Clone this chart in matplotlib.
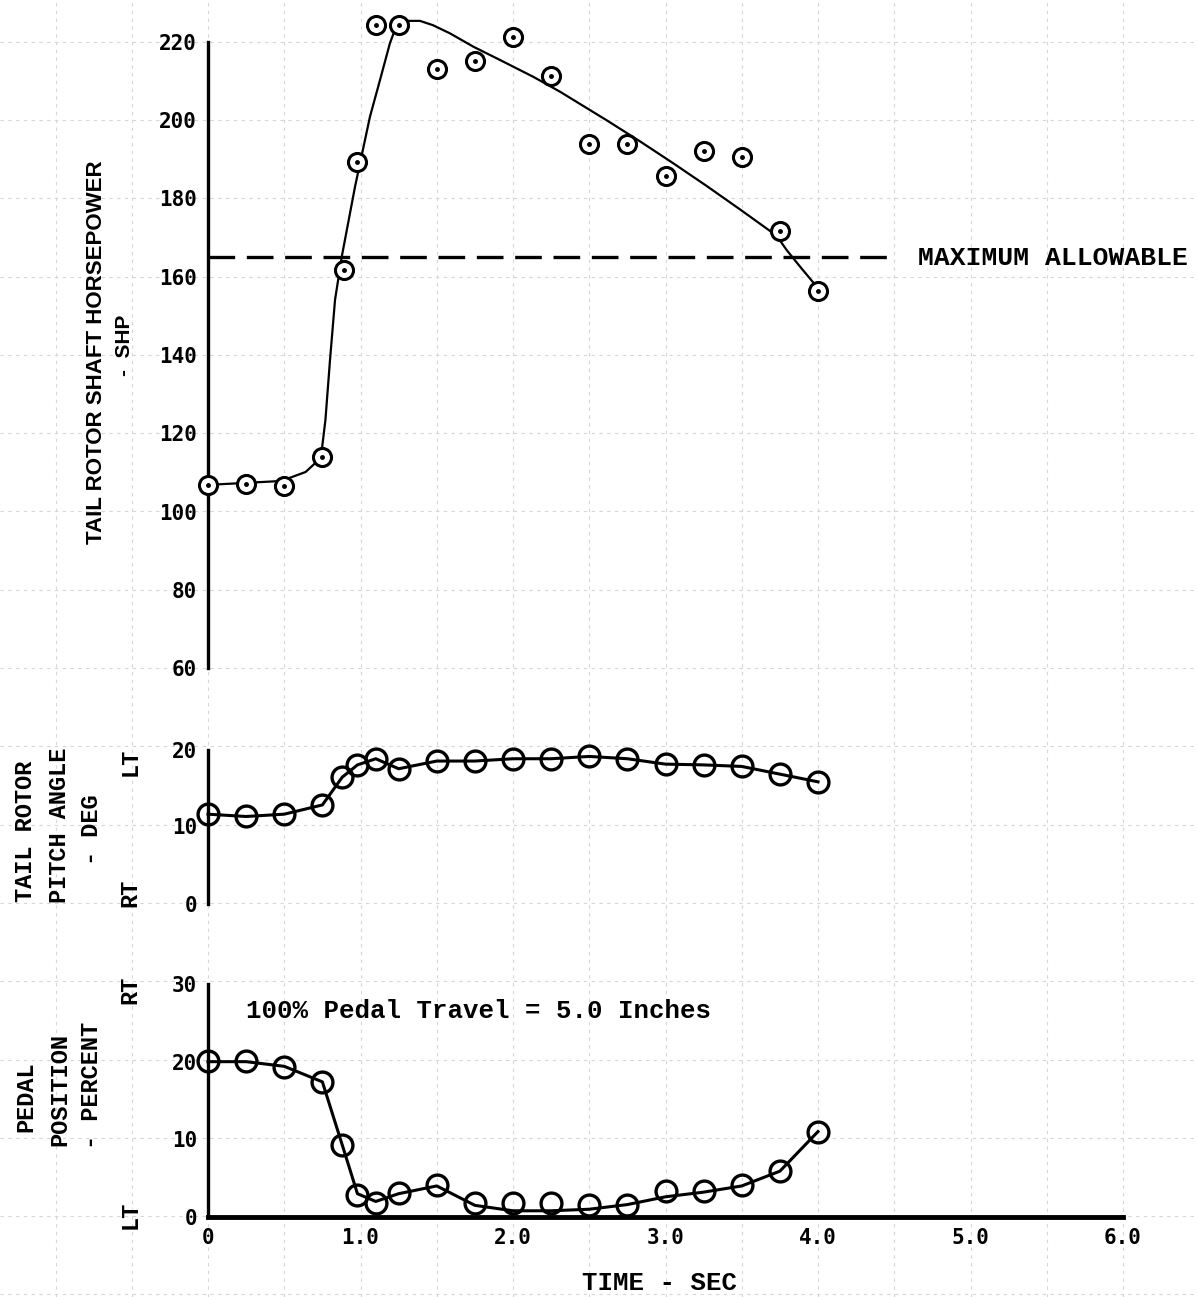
import numpy as np
import matplotlib.pyplot as plt

# time axis ticks
x_ticks = [0, 1, 2, 3, 4, 5, 6]
x_ticklabels = ['0', '1.0', '2.0', '3.0', '4.0', '5.0', '6.0']

# tail rotor shaft horsepower - test points
shp_t = [0, 0.25, 0.5, 0.75, 0.89, 0.98, 1.1, 1.25, 1.5, 1.75, 2.0, 2.25,
         2.5, 2.75, 3.0, 3.25, 3.5, 3.75, 4.0]
shp = [106.8, 107.0, 106.5, 113.9, 161.7, 189.3, 224.3, 224.3, 213.1, 215.1,
       221.3, 211.3, 193.9, 193.9, 185.7, 192.1, 190.6, 171.7, 156.4]
# faired curve
shp_fair_t = [0, 0.24, 0.48, 0.64, 0.74, 0.77, 0.80, 0.833, 0.877, 0.964,
              1.062, 1.128, 1.193, 1.237, 1.303, 1.39, 1.475, 1.587, 1.74,
              1.915, 2.133, 2.308, 2.396, 2.614, 2.833, 3.051, 3.27, 3.489,
              3.707, 3.75, 3.795, 3.882, 3.991]
shp_fair = [106.8, 107.3, 107.8, 110.1, 113.7, 123.4, 138.7, 154.1, 165.1,
            183.0, 200.9, 210.3, 219.7, 224.3, 225.4, 225.4, 224.3, 222.2,
            218.8, 215.4, 211.1, 207.3, 205.2, 200.0, 194.6, 189.0, 183.2,
            177.2, 171.1, 169.3, 166.8, 162.6, 157.5]
max_allowable = 165

# pitch angle and pedal position
t = [0, 0.25, 0.5, 0.75, 0.88, 0.98, 1.1, 1.25, 1.5, 1.75, 2.0, 2.25, 2.5,
     2.75, 3.0, 3.25, 3.5, 3.75, 4.0]
pitch = [11.6, 11.3, 11.6, 12.8, 16.4, 18.0, 18.8, 17.5, 18.5, 18.5, 18.8,
         18.8, 19.1, 18.8, 18.1, 18.0, 17.8, 16.8, 15.8]
pedal = [20.1, 20.1, 19.3, 17.4, 9.25, 2.85, 1.85, 3.1, 4.1, 1.85, 1.85, 1.85,
         1.6, 1.6, 3.3, 3.3, 4.1, 5.9, 11.0]
pedal_fair = [20.0, 20.0, 19.4, 17.4, 9.3, 3.0, 2.0, 3.0, 4.0, 1.5, 0.8, 0.8,
              1.0, 1.6, 2.6, 3.2, 4.0, 5.9, 11.0]

W, H = 1198, 1297
MONO = 'Liberation Mono'
TICKF = 'DejaVu Sans Mono'

fig = plt.figure(figsize=(W / 100, H / 100), dpi=100)


def px(x, y):
    # pixel position (from top-left) -> figure fraction
    return x / W, 1 - y / H


def rect(left, top, right, bottom):
    return [left / W, 1 - bottom / H, (right - left) / W, (bottom - top) / H]


# graph paper background
bg = fig.add_axes([0, 0, 1, 1], zorder=-5)
bg.set_xlim(0, W)
bg.set_ylim(H, 0)
bg.axis('off')
for gx in 208 + 76.25 * np.arange(-3, 14):
    bg.axvline(gx, color='#d6d6d6', lw=0.8, ls=(0, (3, 4)))
for gy in 668 + 78.3 * np.arange(-9, 9):
    bg.axhline(gy, color='#d6d6d6', lw=0.8, ls=(0, (3, 4)))

ax1 = fig.add_axes(rect(208, 42, 1123, 668))
ax2 = fig.add_axes(rect(208, 749.5, 1123, 903.5))
ax3 = fig.add_axes(rect(208, 984, 1123, 1217))

for ax in (ax1, ax2, ax3):
    ax.set_facecolor('none')
    ax.set_xlim(0, 6)
    for s in ('top', 'right', 'bottom'):
        ax.spines[s].set_visible(False)
    ax.spines['left'].set_linewidth(2.4)
    ax.tick_params(length=0, pad=8)
    ax.set_xticks([])

tick_kw = dict(fontfamily=TICKF, fontweight='bold', fontsize=15)

# top panel
ax1.set_ylim(60, 220)
ax1.set_yticks(range(60, 221, 20))
ax1.set_yticklabels([str(v) for v in range(60, 221, 20)], **tick_kw)
ax1.plot(shp_fair_t, shp_fair, color='black', lw=1.6, clip_on=False)
ax1.plot(shp_t, shp, ls='none', marker='o', ms=13, mfc='white', mec='black',
         mew=2.2, clip_on=False, zorder=3)
ax1.plot(shp_t, shp, ls='none', marker='o', ms=2.5, color='black',
         clip_on=False, zorder=4)
ax1.plot([0, 4.5], [max_allowable, max_allowable], color='black', lw=2.4,
         dashes=(8, 3.5), clip_on=False)

# middle panel
ax2.set_ylim(0, 20)
ax2.set_yticks([0, 10, 20])
ax2.set_yticklabels(['0', '10', '20'], **tick_kw)
ax2.plot(t, pitch, color='black', lw=2.2, marker='o', ms=15, mfc='none',
         mec='black', mew=2.4, clip_on=False)

# bottom panel
ax3.set_ylim(0, 30)
ax3.set_yticks([0, 10, 20, 30])
ax3.set_yticklabels(['0', '10', '20', '30'], **tick_kw)
ax3.spines['bottom'].set_visible(True)
ax3.spines['bottom'].set_linewidth(3.5)
ax3.set_xticks(x_ticks)
ax3.set_xticklabels(x_ticklabels, **tick_kw)
ax3.plot(t, pedal_fair, color='black', lw=2.2, clip_on=False)
ax3.plot(t, pedal, ls='none', marker='o', ms=15, mfc='none', mec='black',
         mew=2.4, clip_on=False)
ax3.text(0.25, 26.5, '100% Pedal Travel = 5.0 Inches', fontfamily=MONO,
         fontweight='bold', fontsize=18.5, va='center', ha='left')

# texts
fig.text(*px(918, 258), 'MAXIMUM ALLOWABLE', fontfamily=MONO,
         fontweight='bold', fontsize=19, va='center', ha='left')
fig.text(*px(660, 1283), 'TIME - SEC', fontfamily=MONO, fontweight='bold',
         fontsize=18.5, va='center', ha='center')

fig.text(*px(97, 352), 'TAIL ROTOR SHAFT HORSEPOWER', family='Liberation Sans',
         fontweight='bold', fontsize=16, rotation=90, va='center', ha='center')
fig.text(*px(125, 345), '-  SHP', family='Liberation Sans', fontweight='bold',
         fontsize=15, rotation=90, va='center', ha='center')

side = dict(fontfamily=MONO, fontweight='bold', fontsize=17, rotation=90,
            va='center', ha='center')
fig.text(*px(26, 831), 'TAIL ROTOR', **side)
fig.text(*px(60, 825), 'PITCH ANGLE', **side)
fig.text(*px(92, 830), '- DEG', **side)
fig.text(*px(130, 762), 'LT', **side)
fig.text(*px(130, 893), 'RT', **side)

fig.text(*px(26, 1097), 'PEDAL', **side)
fig.text(*px(60, 1090), 'POSITION', **side)
fig.text(*px(92, 1085), '- PERCENT', **side)
fig.text(*px(130, 990), 'RT', **side)
fig.text(*px(130, 1215), 'LT', **side)

fig.savefig('out.png', dpi=100)
